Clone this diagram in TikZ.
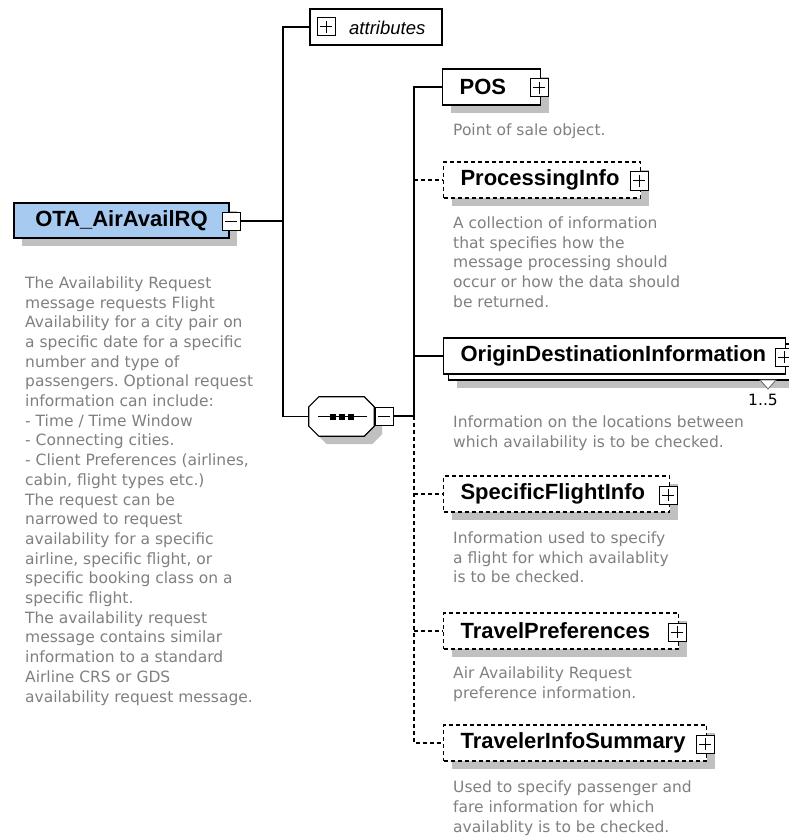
\documentclass[tikz,border=0pt]{standalone}
\usepackage{fontspec}
\setmainfont{Liberation Sans}
\newfontfamily\descfam{DejaVu Sans}
\usetikzlibrary{shadows}
\frenchspacing
\definecolor{descgray}{RGB}{128,128,128}
\definecolor{rootblue}{RGB}{166,202,240}
\definecolor{shadowgray}{RGB}{192,192,192}
\newcommand\xnamefont{\fontsize{22}{26}\selectfont\bfseries}
\newcommand\xdescfont{\descfam\fontsize{15.5}{19.7}\selectfont}
\tikzset{
  shadowed/.style={drop shadow={shadow xshift=8pt, shadow yshift=-8pt, fill=shadowgray, opacity=1}},
  elem/.style={draw=black, line width=1.2pt, fill=white, minimum height=36pt, inner xsep=17pt, inner ysep=0pt, anchor=west, align=left, font=\xnamefont, text width=#1},
  optelem/.style={elem=#1, dash pattern=on 4pt off 3pt, line width=1.1pt},
  pmbox/.style={draw=black, line width=1pt, fill=white, minimum size=18pt, inner sep=0pt},
  plusbox/.style={pmbox, path picture={\draw[line width=1pt] ([xshift=3pt]path picture bounding box.west) -- ([xshift=-3pt]path picture bounding box.east) ([yshift=-3pt]path picture bounding box.north) -- ([yshift=3pt]path picture bounding box.south);}},
  minusbox/.style={pmbox, path picture={\draw[line width=1pt] ([xshift=3pt]path picture bounding box.west) -- ([xshift=-3pt]path picture bounding box.east);}},
  conn/.style={draw=black, line width=1.2pt},
  optconn/.style={draw=black, line width=1.1pt, dash pattern=on 4pt off 3pt},
  desc/.style={anchor=base west, align=left, font=\xdescfont, text=descgray, inner sep=0pt},
}
\begin{document}
\begin{tikzpicture}[x=1pt,y=-1pt]
\fill[white] (0,0) rectangle (788,837);
\useasboundingbox (0,0) rectangle (788,837);
\coordinate (t1) at (283,0);
\coordinate (t2) at (414,0);

% root
\node[draw=black, line width=1.2pt, fill=rootblue, minimum width=215pt, minimum height=35pt, inner sep=0pt, font=\xnamefont, shadowed] (root) at (121.5,220.5) {OTA\_AirAvailRQ};
\node[minusbox] (rootpm) at (231,221) {};
% anchor = baseline of the last line
\node[desc] (rootd) at (25,702) {The Availability Request\\message requests Flight\\Availability for a city pair on\\a specific date for a specific\\number and type of\\passengers. Optional request\\information can include:\\- Time / Time Window\\- Connecting cities.\\- Client Preferences (airlines,\\cabin, flight types etc.)\\The request can be\\narrowed to request\\availability for a specific\\airline, specific flight, or\\specific booking class on a\\specific flight.\\The availability request\\message contains similar\\information to a standard\\Airline CRS or GDS\\availability request message.};

% attributes
\node[draw=black, line width=1.2pt, fill=white, minimum width=132pt, minimum height=36pt, inner sep=0pt] (attr) at (376,27) {};
\node[plusbox] (attrpm) at (326,27) {};
\node[anchor=west, font=\itshape\fontsize{18.5}{22}\selectfont, inner sep=0pt] (attrtxt) at (349,28) {attributes};

% sequence compositor
\node[minimum width=65pt, minimum height=39pt, inner sep=0pt] (seq) at (341.5,416.5) {};
\draw[line width=1.2pt, fill=white, shadowed] ([xshift=10pt]seq.north west) -- ([xshift=-10pt]seq.north east) -- ([yshift=-10pt]seq.north east) -- ([yshift=10pt]seq.south east) -- ([xshift=-10pt]seq.south east) -- ([xshift=10pt]seq.south west) -- ([yshift=10pt]seq.south west) -- ([yshift=-10pt]seq.north west) -- cycle;
\draw[line width=1.2pt] ([xshift=9pt]seq.west) -- ([xshift=-7pt]seq.east);
\foreach \dx in {-9,0,9} \fill ([xshift=\dx pt]seq.center) ++(-3pt,-3pt) rectangle ++(6pt,6pt);
\node[minusbox] (seqpm) at (384,416) {};

% children
\node[elem=64pt, shadowed] (pos) at (442,87) {POS};
\node[plusbox] (pospm) at (539,88) {};
\node[desc] (posd) at (453,135.5) {Point of sale object.};

\node[optelem=163pt, shadowed] (pi) at (443,180) {ProcessingInfo};
\node[plusbox] (pipm) at (639,181) {};
\node[desc] (pid) at (453,307.3) {A collection of information\\that specifies how the\\message processing should\\occur or how the data should\\be returned.};

\node[draw=black, line width=1.2pt, fill=white, minimum width=342pt, minimum height=36pt, inner sep=0pt, anchor=west, shadowed] (odiback) at (448,362) {};
\draw[line width=0.8pt, draw=black!60, fill=white] (760,380) -- (776,380) -- (768,389) -- cycle;
\node[elem=308pt] (odi) at (443,356) {OriginDestinationInformation};
\node[plusbox] (odipm) at (784,357) {};
\node[anchor=east, font=\xdescfont, inner sep=0pt] (odimult) at (778,400) {1..5};
\node[desc] (odid) at (453,447.2) {Information on the locations between\\which availability is to be checked.};

\node[optelem=192pt, shadowed] (sfi) at (443,494) {SpecificFlightInfo};
\node[plusbox] (sfipm) at (668,495) {};
\node[desc] (sfid) at (453,582.9) {Information used to specify\\a flight for which availablity\\is to be checked.};

\node[optelem=201pt, shadowed] (tp) at (443,631) {TravelPreferences};
\node[plusbox] (tppm) at (677,632) {};
\node[desc] (tpd) at (453,698.2) {Air Availability Request\\preference information.};

\node[optelem=229pt, shadowed] (tis) at (443,743) {TravelerInfoSummary};
\node[plusbox] (tispm) at (705,744) {};
\node[desc] (tisd) at (453,832) {Used to specify passenger and\\fare information for which\\availablity is to be checked.};

% connectors
\draw[conn] (rootpm.east) -- (rootpm.east -| t1);
\draw[conn] (attr.west) -- (attr.west -| t1) -- (seq.west -| t1) -- (seq.west);
\draw[conn] (seqpm.east) -- (seqpm.east -| t2);
\draw[conn] (pos.west) -- (pos.west -| t2) -- (seqpm.east -| t2);
\draw[conn] (odi.west -| t2) -- (odi.west);
\draw[optconn] (seqpm.east -| t2) -- (tis.west -| t2) -- (tis.west);
\draw[optconn] (pi.west -| t2) -- (pi.west);
\draw[optconn] (sfi.west -| t2) -- (sfi.west);
\draw[optconn] (tp.west -| t2) -- (tp.west);
\end{tikzpicture}
\end{document}
